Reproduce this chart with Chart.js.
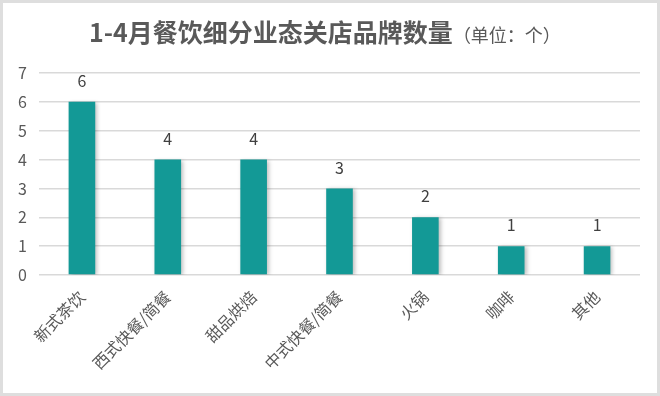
<!DOCTYPE html>
<html>
<head>
<meta charset="utf-8">
<script src="https://cdn.jsdelivr.net/npm/chart.js@4/dist/chart.umd.min.js"></script>
<style>
  html, body { margin: 0; padding: 0; background: #fff; }
  #wrap {
    position: relative; width: 660px; height: 396px;
    box-sizing: border-box; border: 3px solid #dedede; background: #fff;
  }
  #title {
    position: absolute; left: 0; right: 10px; top: 12px; text-align: center;
    font-family: "Noto Sans CJK SC", sans-serif; color: #595959;
    font-size: 25px; font-weight: bold; line-height: 32px; white-space: nowrap;
  }
  #title span { font-size: 18px; font-weight: normal; }
  canvas { position: absolute; left: 0; top: 0; }
</style>
</head>
<body>
<div id="wrap">
  <canvas id="barChart" width="654" height="390"></canvas>
  <div id="title">1-4月餐饮细分业态关店品牌数量<span>（单位：个）</span></div>
</div>
<script>
// chart data
var categories = ["新式茶饮", "西式快餐/简餐", "甜品烘焙", "中式快餐/简餐", "火锅", "咖啡", "其他"];
var closedBrands = [6, 4, 4, 3, 2, 1, 1];
var yTicks = [0, 1, 2, 3, 4, 5, 6, 7];

// draws the value above each bar
var valueLabels = {
  id: 'valueLabels',
  afterDatasetsDraw: function (chart) {
    let ctx = chart.ctx;
    let meta = chart.getDatasetMeta(0);
    ctx.save();
    ctx.font = '16px "Noto Sans CJK SC", sans-serif';
    ctx.fillStyle = '#404040';
    ctx.textAlign = 'center';
    ctx.textBaseline = 'middle';
    meta.data.forEach(function (bar, i) {
      ctx.fillText(closedBrands[i], bar.x, bar.y - 21);
    });
    ctx.restore();
  }
};

// little shadow on the right of the bars
var barShadow = {
  id: 'barShadow',
  beforeDatasetsDraw: function (chart) {
    let ctx = chart.ctx;
    ctx.save();
    ctx.shadowColor = 'rgba(0,0,0,0.25)';
    ctx.shadowBlur = 4;
    ctx.shadowOffsetX = 2;
    ctx.shadowOffsetY = 1;
  },
  afterDatasetsDraw: function (chart) {
    chart.ctx.restore();
  }
};

new Chart(document.getElementById('barChart'), {
  type: 'bar',
  data: {
    labels: categories,
    datasets: [{
      data: closedBrands,
      backgroundColor: '#139996',
      barPercentage: 0.62,
      categoryPercentage: 0.5
    }]
  },
  options: {
    responsive: false,
    animation: false,
    layout: { padding: { top: 70, right: 17, left: 7, bottom: 16 } },
    plugins: {
      legend: { display: false },
      tooltip: { enabled: false }
    },
    scales: {
      x: {
        grid: { display: false },
        border: { display: false },
        ticks: {
          minRotation: 45, maxRotation: 45,
          padding: 4,
          color: '#595959',
          font: { family: '"Noto Sans CJK SC", sans-serif', size: 16 }
        }
      },
      y: {
        min: 0, max: 7,
        afterBuildTicks: function (axis) {
          axis.ticks = yTicks.map(function (v) { return { value: v }; });
        },
        // keep the plot starting where the reference does
        afterFit: function (axis) { axis.width = 29; },
        grid: { color: '#d9d9d9', lineWidth: 1.5, drawTicks: false },
        border: { display: false },
        ticks: {
          padding: 12,
          color: '#595959',
          font: { family: '"Noto Sans CJK SC", sans-serif', size: 16 }
        }
      }
    }
  },
  plugins: [barShadow, valueLabels]
});
</script>
</body>
</html>
